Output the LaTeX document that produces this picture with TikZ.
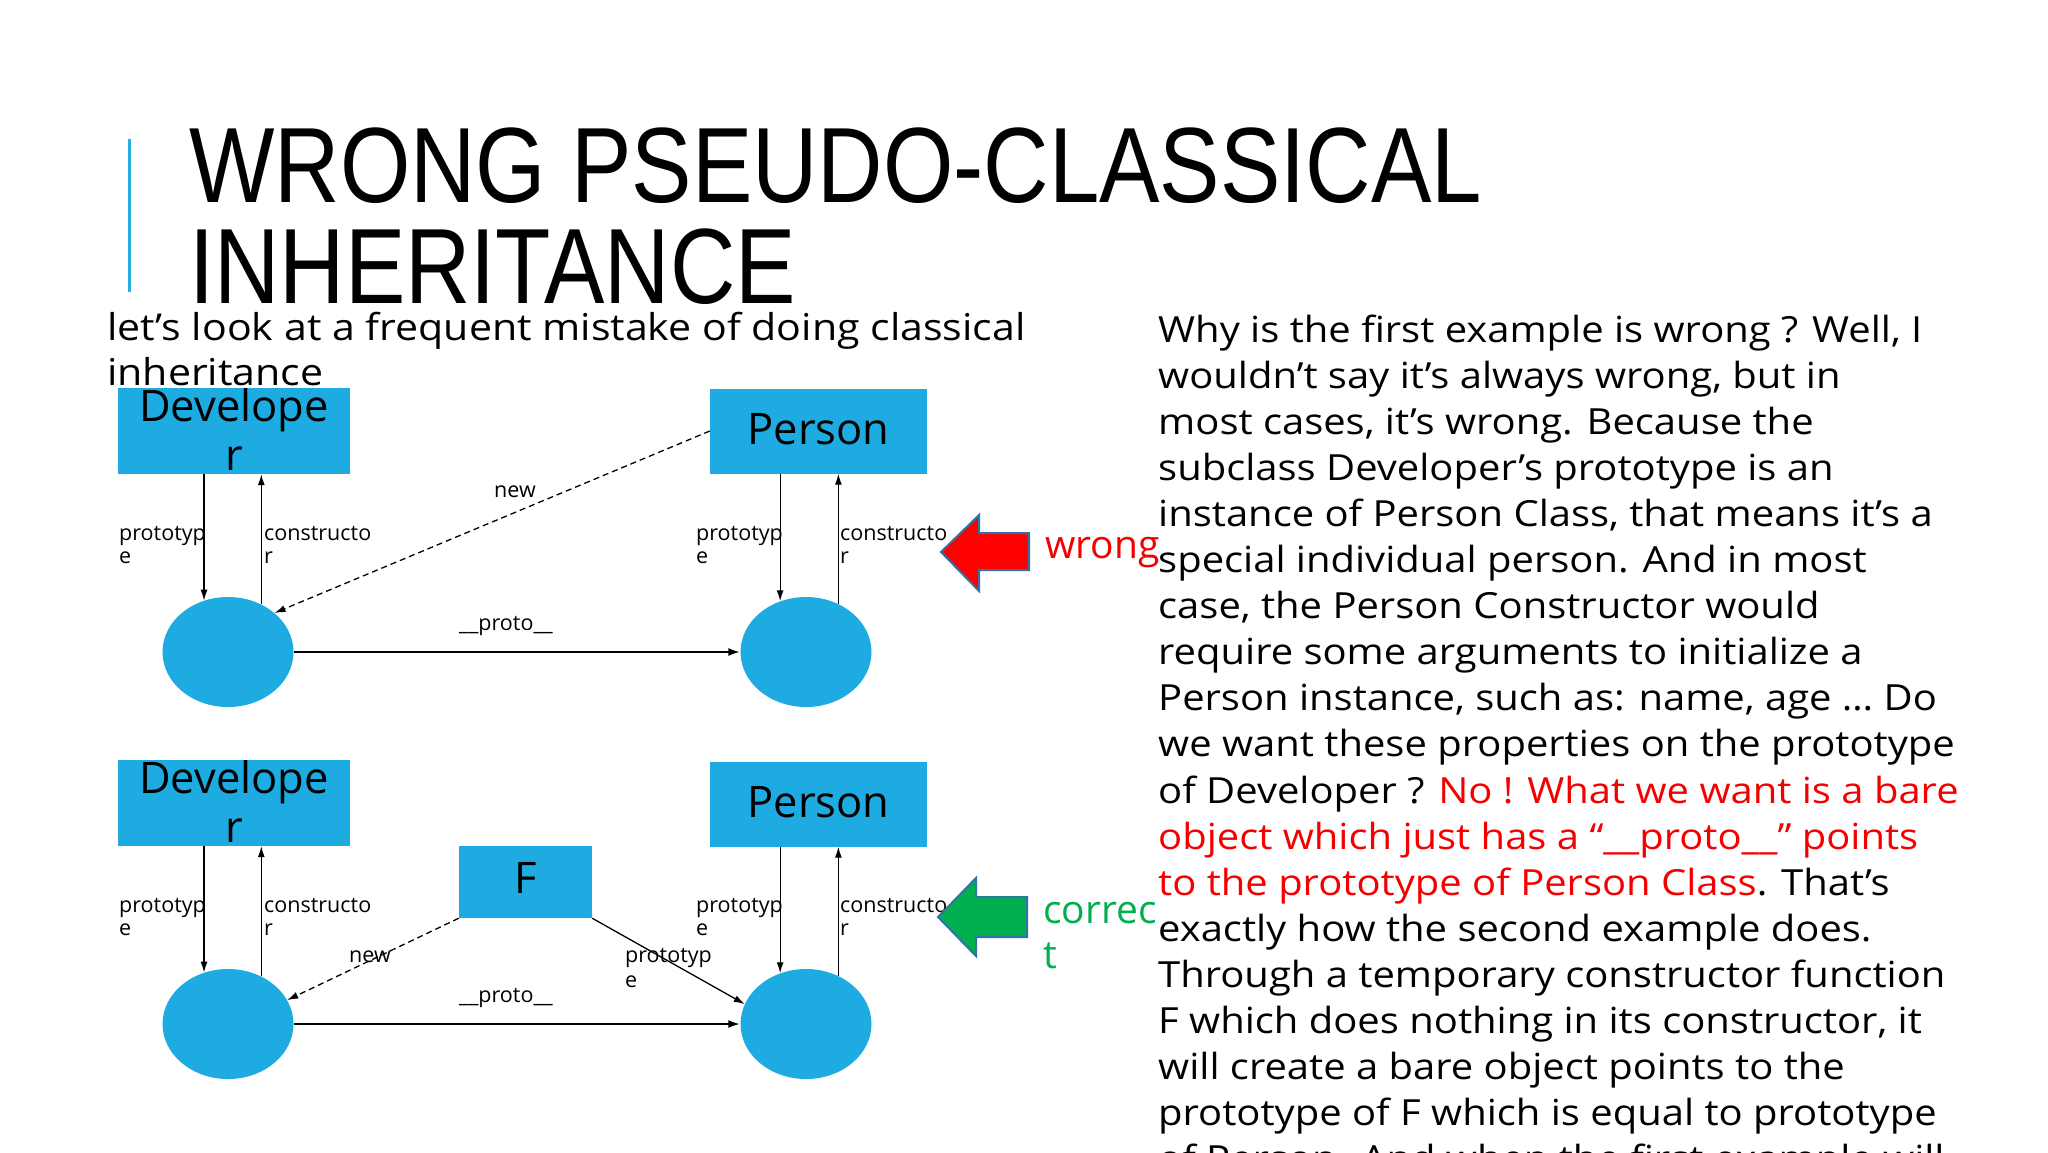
\documentclass[tikz,border=0pt]{standalone}
\usepackage{fontspec}
\setmainfont{Open Sans}
\newfontfamily\titlefont[FakeStretch=0.846]{Liberation Sans}
\newfontfamily\bodyfont[FakeStretch=1.11]{Open Sans}
\usetikzlibrary{shapes.geometric,arrows.meta,calc}
\definecolor{boxblue}{RGB}{29,171,226}
\definecolor{barblue}{RGB}{40,175,225}
\definecolor{arrowedge}{RGB}{50,115,165}
\definecolor{okgreen}{RGB}{0,176,80}
\definecolor{txtred}{RGB}{245,0,0}
\begin{document}
\begin{tikzpicture}[x=1pt,y=-1pt,
 box/.style={draw=none, fill=boxblue, inner sep=0, align=center, font=\fontsize{43.5}{49}\selectfont},
 obj/.style={ellipse, fill=boxblue, minimum width=131pt, minimum height=110pt, inner sep=0},
 lbl/.style={inner sep=0, anchor=base west, font=\fontsize{21.5}{23}\selectfont},
 arr/.style={-{Latex[length=11pt,width=7pt]}, line width=1.3pt},
 protoarr/.style={-{Latex[length=12pt,width=8pt]}, line width=2.2pt},
 dasharr/.style={arr, dash pattern=on 6pt off 4pt},
 body/.style={inner sep=0, anchor=base west, font=\bodyfont\fontsize{36}{46}\selectfont},
 bigarrow/.style={line width=2pt, draw=arrowedge, line join=miter}
]
\useasboundingbox (0,0) rectangle (2048,1152);
\clip (0,0) rectangle (2048,1152);
\fill[white] (0,0) rectangle (2048,1152);

% title
\draw[barblue, line width=3pt] (129,139) -- (129,292);
\node[inner sep=0, anchor=base west, font=\titlefont\fontsize{107}{107}\selectfont] (t1) at (189,202) {WRONG PSEUDO-CLASSICAL};
\node[inner sep=0, anchor=base west, font=\titlefont\fontsize{107}{107}\selectfont] (t2) at (189,303) {INHERITANCE};

% intro
\node[inner sep=0, anchor=base west, font=\bodyfont\fontsize{37}{45}\selectfont] (intro1) at (107,340) {let’s look at a frequent mistake of doing classical};
\node[inner sep=0, anchor=base west, font=\bodyfont\fontsize{37}{45}\selectfont] (intro2) at (107,385) {inheritance};

% top diagram
\node[box, minimum width=232pt, minimum height=85pt, text depth=4pt] (dev1) at (234,431) {Develope\\r};
\node[box, minimum width=217pt, minimum height=85pt, text depth=5pt] (per1) at (818.5,431) {Person};
\node[obj] (o1) at (228,652) {};
\node[obj] (o2) at (806,652) {};
\draw[arr] (dev1.south -| o1.115) -- (o1.115);
\draw[arr] (o1.55) -- (dev1.south -| o1.55);
\draw[arr] (per1.south -| o2.117) -- (o2.117);
\draw[arr] (o2.56) -- (per1.south -| o2.56);
\draw[dasharr] (per1.west) -- (o1.40);
\draw[protoarr] (o1.east) -- (o2.west);
\node[lbl] (a1) at (119,540) {prototyp};
\node[lbl] (a2) at (119,563) {e};
\node[lbl] (a3) at (264,540) {constructo};
\node[lbl] (a4) at (264,563) {r};
\node[lbl] (a5) at (696,540) {prototyp};
\node[lbl] (a6) at (696,563) {e};
\node[lbl] (a7) at (840,540) {constructo};
\node[lbl] (a8) at (840,563) {r};
\node[lbl] (a9) at (494,497) {new};
\node[lbl] (a10) at (459,630) {\_\_proto\_\_};

% bottom diagram
\node[box, minimum width=232pt, minimum height=85pt, text depth=4pt] (dev2) at (234,803) {Develope\\r};
\node[box, minimum width=217pt, minimum height=85pt, text depth=5pt] (per2) at (818.5,804) {Person};
\node[box, minimum width=133pt, minimum height=72pt, text depth=8pt] (fbox) at (525.5,882) {F};
\node[obj] (o3) at (228,1024) {};
\node[obj] (o4) at (806,1024) {};
\draw[arr] (dev2.south -| o3.115) -- (o3.115);
\draw[arr] (o3.55) -- (dev2.south -| o3.55);
\draw[arr] (per2.south -| o4.117) -- (o4.117);
\draw[arr] (o4.56) -- (per2.south -| o4.56);
\draw[dasharr] (fbox.south west) -- (o3.22);
\draw[arr] (fbox.south east) -- (o4.162);
\draw[protoarr] (o3.east) -- (o4.west);
\node[lbl] (b1) at (119,912) {prototyp};
\node[lbl] (b2) at (119,935) {e};
\node[lbl] (b3) at (264,912) {constructo};
\node[lbl] (b4) at (264,935) {r};
\node[lbl] (b5) at (696,912) {prototyp};
\node[lbl] (b6) at (696,935) {e};
\node[lbl] (b7) at (840,912) {constructo};
\node[lbl] (b8) at (840,935) {r};
\node[lbl] (b9) at (349,962) {new};
\node[lbl] (b10) at (625,962) {prototyp};
\node[lbl] (b11) at (625,987) {e};
\node[lbl] (b12) at (459,1002) {\_\_proto\_\_};

% big arrows
\filldraw[bigarrow, fill=red] (941,552) -- (979,515) -- (979,533) -- (1029,533) -- (1029,570) -- (979,570) -- (979,591) -- cycle;
\filldraw[bigarrow, fill=okgreen] (938,917) -- (976,878) -- (976,897) -- (1027,897) -- (1027,937) -- (976,937) -- (976,956) -- cycle;
\node[inner sep=0, anchor=base west, font=\fontsize{39}{45}\selectfont, text=txtred] (wrong) at (1045,558) {wrong};
\node[inner sep=0, anchor=base west, font=\fontsize{39}{45}\selectfont, text=okgreen] (corr1) at (1043,923) {correc};
\node[inner sep=0, anchor=base west, font=\fontsize{39}{45}\selectfont, text=okgreen] (corr2) at (1043,968) {t};

% right text
\node[body] (r0) at (1158,342) {Why is the first example is wrong ? Well, I};
\node[body] (r1) at (1158,388.1) {wouldn’t say it’s always wrong, but in};
\node[body] (r2) at (1158,434.2) {most cases, it’s wrong. Because the};
\node[body] (r3) at (1158,480.3) {subclass Developer’s prototype is an};
\node[body] (r4) at (1158,526.4) {instance of Person Class, that means it’s a};
\node[body] (r5) at (1158,572.5) {special individual person. And in most};
\node[body] (r6) at (1158,618.6) {case, the Person Constructor would};
\node[body] (r7) at (1158,664.7) {require some arguments to initialize a};
\node[body] (r8) at (1158,710.8) {Person instance, such as: name, age … Do};
\node[body] (r9) at (1158,756.9) {we want these properties on the prototype};
\node[body] (r10) at (1158,803) {of Developer ? \textcolor{txtred}{No ! What we want is a bare}};
\node[body, text=txtred] (r11) at (1158,849.1) {object which just has a “\_\_proto\_\_” points};
\node[body] (r12) at (1158,895.2) {\textcolor{txtred}{to the prototype of Person Class}. That’s};
\node[body] (r13) at (1158,941.3) {exactly how the second example does.};
\node[body] (r14) at (1158,987.4) {Through a temporary constructor function};
\node[body] (r15) at (1158,1033.5) {F which does nothing in its constructor, it};
\node[body] (r16) at (1158,1079.6) {will create a bare object points to the};
\node[body] (r17) at (1158,1125.7) {prototype of F which is equal to prototype};
\node[body] (r18) at (1158,1171.8) {of Person. And when the first example will};
\end{tikzpicture}
\end{document}
